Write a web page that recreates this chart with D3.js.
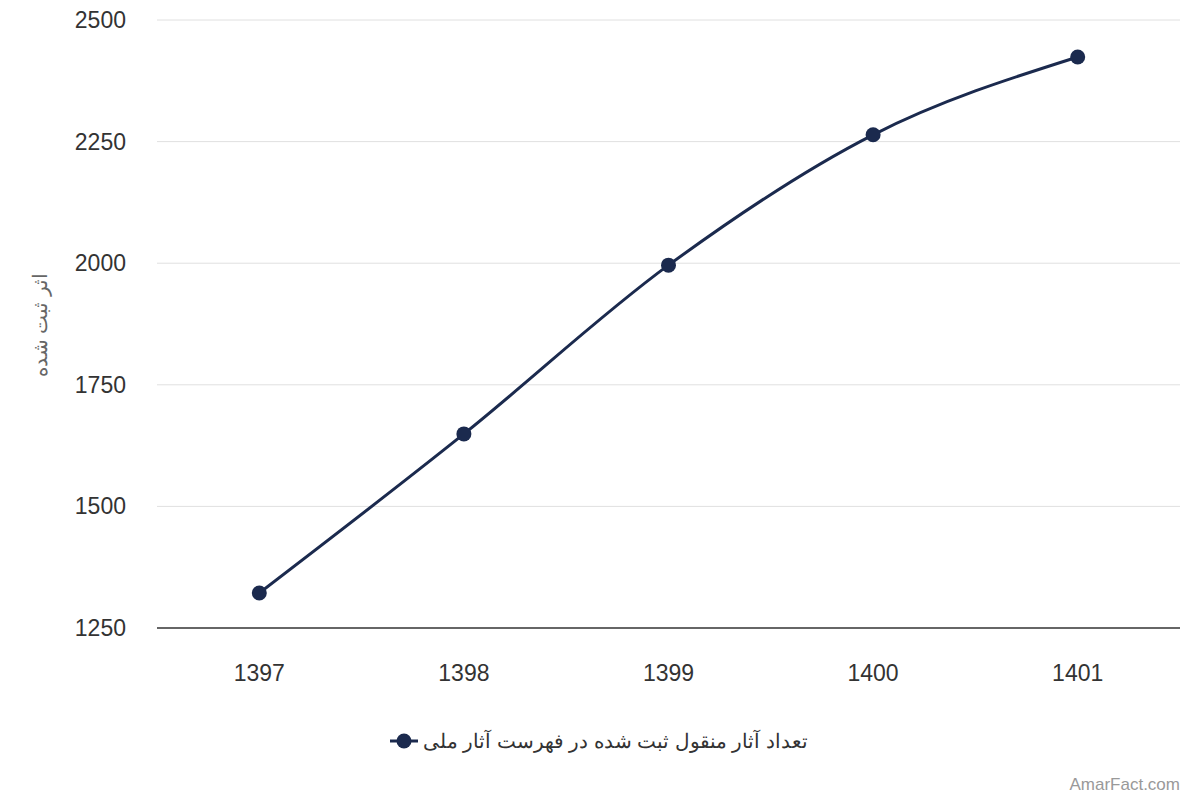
<!DOCTYPE html>
<html><head><meta charset="utf-8">
<script src="https://cdn.jsdelivr.net/npm/d3@7"></script>
<style>body{margin:0;background:#fff}text{font-family:"Liberation Sans",Arial,sans-serif}</style>
</head><body>
<svg id="c" width="1200" height="800"></svg>
<script>
const categories = ["1397","1398","1399","1400","1401"];
const values = [1322, 1649, 1996, 2264, 2424];
const yTicks = [1250,1500,1750,2000,2250,2500];
const seriesName = "تعداد آثار منقول ثبت شده در فهرست آثار ملی";
const yTitle = "اثر ثبت شده";
const color = "#1b2a4e";

const svg = d3.select("#c");
const x = d3.scaleBand().domain(categories).range([157,1180]);
const y = d3.scaleLinear().domain([1250,2500]).range([628,20]);

const g = svg.append("g");
yTicks.forEach(t=>{
  g.append("line").attr("x1",157).attr("x2",1180).attr("y1",y(t)).attr("y2",y(t))
   .attr("stroke", t===1250?"#333":"#e0e0e0").attr("stroke-width",t===1250?1.5:1);
  g.append("text").attr("x",126).attr("y",y(t)).attr("dy","0.35em").attr("text-anchor","end")
   .attr("font-size",23).attr("fill","#333").text(t);
});
categories.forEach(c=>{
  g.append("text").attr("x",x(c)+x.bandwidth()/2).attr("y",673).attr("dy","0.35em")
   .attr("text-anchor","middle").attr("font-size",23).attr("fill","#333").text(c);
});
svg.append("text").attr("transform","translate(40,325) rotate(-90)").attr("text-anchor","middle")
  .attr("font-size",20).attr("fill","#666").attr("dy","0.35em").text(yTitle);

const line = d3.line().x((d,i)=>x(categories[i])+x.bandwidth()/2).y(d=>y(d)).curve(d3.curveMonotoneX);
svg.append("path").datum(values).attr("d",line).attr("fill","none").attr("stroke",color).attr("stroke-width",3);
svg.selectAll("circle.p").data(values).enter().append("circle")
  .attr("cx",(d,i)=>x(categories[i])+x.bandwidth()/2).attr("cy",d=>y(d)).attr("r",7.5).attr("fill",color);

svg.append("line").attr("x1",390).attr("x2",418).attr("y1",741).attr("y2",741).attr("stroke",color).attr("stroke-width",3);
svg.append("circle").attr("cx",404).attr("cy",741).attr("r",7.5).attr("fill",color);
svg.append("text").attr("x",808).attr("y",741).attr("dy","0.35em").attr("text-anchor","end")
  .attr("font-size",20).attr("fill","#333").text(seriesName);
svg.append("text").attr("x",1180).attr("y",790).attr("text-anchor","end").attr("font-size",17).attr("fill","#999").text("AmarFact.com");
</script>
</body></html>
